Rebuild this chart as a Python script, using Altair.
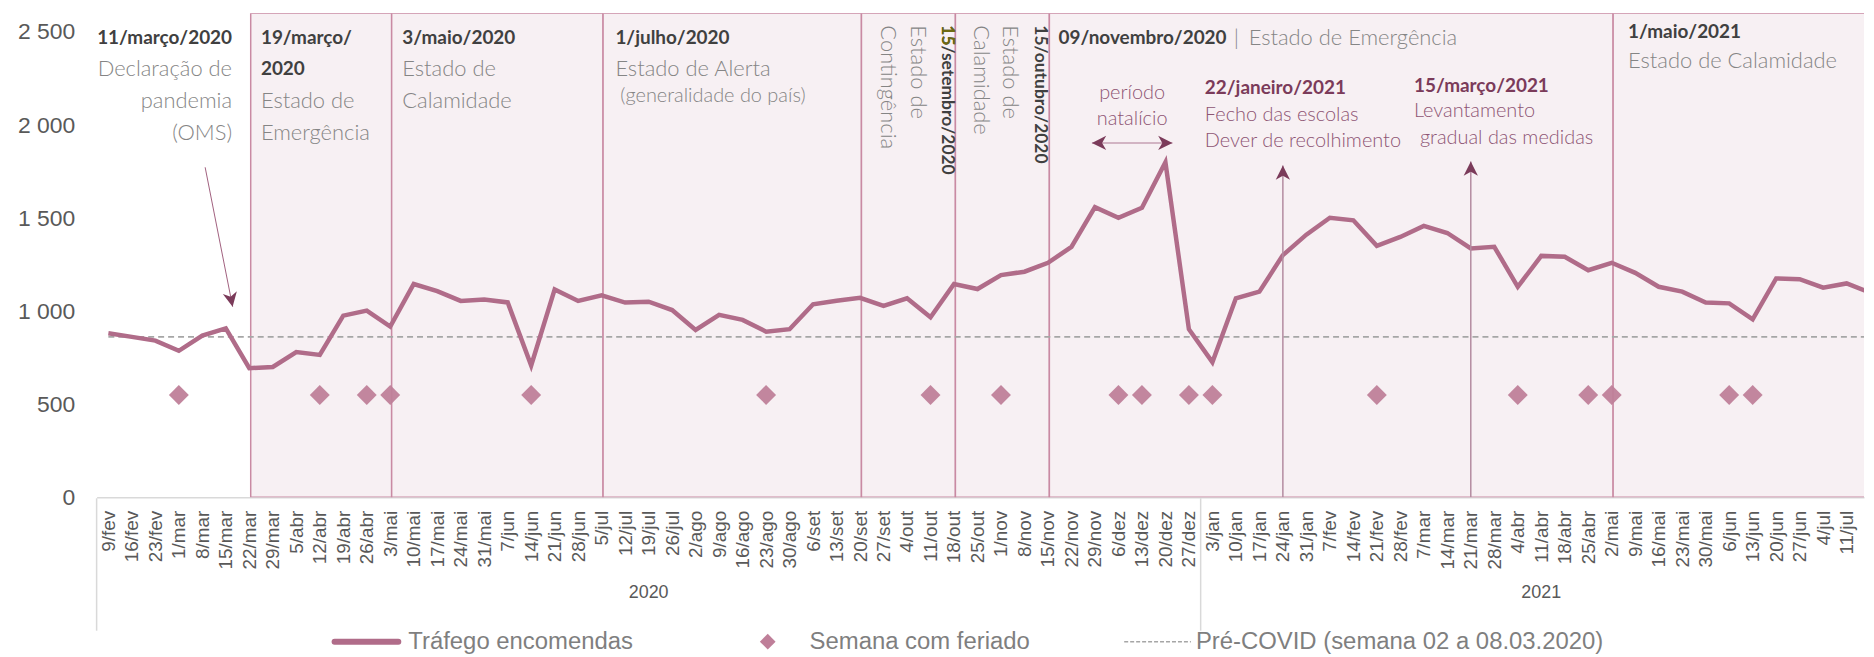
import json
import altair as alt
import pandas as pd

# ---------------- data ----------------
weeks_2020 = ["9/fev", "16/fev", "23/fev", "1/mar", "8/mar", "15/mar", "22/mar", "29/mar",
              "5/abr", "12/abr", "19/abr", "26/abr", "3/mai", "10/mai", "17/mai", "24/mai",
              "31/mai", "7/jun", "14/jun", "21/jun", "28/jun", "5/jul", "12/jul", "19/jul",
              "26/jul", "2/ago", "9/ago", "16/ago", "23/ago", "30/ago", "6/set", "13/set",
              "20/set", "27/set", "4/out", "11/out", "18/out", "25/out", "1/nov", "8/nov",
              "15/nov", "22/nov", "29/nov", "6/dez", "13/dez", "20/dez", "27/dez"]
weeks_2021 = ["3/jan", "10/jan", "17/jan", "24/jan", "31/jan", "7/fev", "14/fev", "21/fev",
              "28/fev", "7/mar", "14/mar", "21/mar", "28/mar", "4/abr", "11/abr", "18/abr",
              "25/abr", "2/mai", "9/mai", "16/mai", "23/mai", "30/mai", "6/jun", "13/jun",
              "20/jun", "27/jun", "4/jul", "11/jul", "18/jul"]

trafego = [881, 862, 842, 787, 869, 908, 694, 700, 780, 765, 976, 1003, 917, 1146, 1108,
           1055, 1063, 1047, 708, 1117, 1055, 1085, 1046, 1051, 1006, 899, 980, 953, 890,
           903, 1037, 1056, 1072, 1028, 1069, 967, 1146, 1119, 1194, 1212, 1260, 1345,
           1559, 1502, 1556, 1800, 903, 726, 1069, 1105, 1301, 1411, 1502, 1488, 1351,
           1399, 1458, 1420, 1337, 1346, 1131, 1297, 1292, 1220, 1260, 1206, 1131, 1105,
           1046, 1042, 956, 1176, 1172, 1126, 1149, 1100]

holidays_2020 = ["1/mar", "12/abr", "26/abr", "3/mai", "14/jun", "23/ago", "11/out",
                 "1/nov", "6/dez", "13/dez", "27/dez"]
holidays_2021 = ["3/jan", "21/fev", "4/abr", "25/abr", "2/mai", "6/jun", "13/jun"]
HOLIDAY_LEVEL = 550
PRE_COVID = 862

# start week of each shaded period (state of emergency, calamity, ...)
period_starts = [("2020", "22/mar"), ("2020", "3/mai"), ("2020", "5/jul"), ("2020", "20/set"),
                 ("2020", "18/out"), ("2020", "15/nov"), ("2021", "2/mai")]
# weeks pointed by vertical arrows
event_weeks = [("2021", "24/jan"), ("2021", "21/mar")]
event_tops = [1783, 1804]

y_ticks = [0, 500, 1000, 1500, 2000, 2500]

# ---------------- derived tables ----------------
labels = weeks_2020 + weeks_2021
years = ["2020"] * len(weeks_2020) + ["2021"] * len(weeks_2021)
idx = {(y, l): i for i, (y, l) in enumerate(zip(years, labels))}

main = pd.DataFrame({"i": range(len(labels)), "semana": labels, "ano": years, "v": trafego})
hol_idx = [idx[("2020", h)] for h in holidays_2020] + [idx[("2021", h)] for h in holidays_2021]
hol = pd.DataFrame({"i": hol_idx, "v": [HOLIDAY_LEVEL] * len(hol_idx)})

W, H = 1775, 486
YMAX = 2600
XMIN, XMAX = -0.5, 74.74
PL, PT = 97, 12  # page position of the plot's top-left corner

def px_to_x(page_x):
    return XMIN + (page_x - PL) / W * (XMAX - XMIN)

def py_to_y(page_y):
    return YMAX * (1 - (page_y - PT) / H)

starts = [idx[p] + 0.06 for p in period_starts]
ends = starts[1:] + [len(labels) - 0.5]
periods = pd.DataFrame({"x0": starts, "x1": ends, "y0": 0, "y1": YMAX})

xs = alt.Scale(domain=[XMIN, XMAX], nice=False, zero=False)
ys = alt.Scale(domain=[0, YMAX], nice=False)

label_expr = json.dumps(labels) + "[datum.value]"
x_axis = alt.Axis(values=list(range(len(labels) - 1)), labelExpr=label_expr, labelAngle=270,
                  labelFont="Liberation Sans", labelFontSize=19, labelColor="#595959",
                  ticks=False, domain=True, domainColor="#d9d9d9", domainWidth=1.5,
                  grid=False, title=None, labelPadding=13, labelOverlap=False,
                  labelFlush=False, labelBound=False)
y_axis = alt.Axis(values=y_ticks, labelExpr="replace(format(datum.value, ','), ',', ' ')",
                  labelFont="Liberation Sans", labelFontSize=23, labelColor="#595959",
                  domain=False, ticks=False, grid=False, title=None, labelPadding=22)

def X(f):
    return alt.X(f, type="quantitative", scale=xs, axis=x_axis)

def Y(f):
    return alt.Y(f, type="quantitative", scale=ys, axis=y_axis)

LINE_C = "#b06c89"
ARROW_C = "#7b3b5a"

rects = alt.Chart(periods).mark_rect(fill="#f7f0f3", stroke="#c98aa3", strokeWidth=1.5,
                                      clip=True).encode(
    x=X("x0"), x2="x1", y=Y("y0"), y2="y1")

pre = pd.DataFrame({"x0": [0], "x1": [len(labels) - 1], "v": [PRE_COVID]})
pre_rule = alt.Chart(pre).mark_rule(color="#a6a6a6", strokeWidth=1.6, strokeDash=[6, 4],
                                     clip=True).encode(x=X("x0"), x2="x1", y=Y("v"))

diamonds = alt.Chart(hol).mark_point(shape="diamond", filled=True, size=400, color="#bf7f99",
                                     opacity=0.95).encode(x=X("i"), y=Y("v"))

line = alt.Chart(main).mark_line(color=LINE_C, strokeWidth=4.5, clip=True).encode(
    x=X("i"), y=Y("v"))

# arrows (shafts + heads)
ev_x = [idx[e] for e in event_weeks]
shafts = pd.DataFrame({
    "x0": [4.12, 41.87] + ev_x, "y0": [1773, 1904, 0, 0],
    "x1": [5.29, 45.30] + ev_x, "y1": [1024, 1904] + event_tops,
    "c": ["#a0607e", "#c6a0b3", "#b48ba0", "#b48ba0"], "w": [1.0, 1.5, 1.5, 1.5]})
shaft_layer = alt.Chart(shafts).mark_rule(clip=True).encode(
    x=X("x0"), y=Y("y0"), x2="x1", y2="y1",
    color=alt.Color("c:N", scale=None), strokeWidth=alt.StrokeWidth("w:Q", scale=None))

heads = pd.DataFrame({"x": [5.29, 41.87, 45.30] + ev_x,
                      "y": [1024, 1904, 1904] + event_tops,
                      "a": [168.8, 270, 90, 0, 0]})
ARROW_PATH = "M0,0 L0.7,1.4 L0,1.0 L-0.7,1.4 Z"
head_layer = alt.Chart(heads).mark_point(shape=ARROW_PATH, filled=True, size=420,
                                         color=ARROW_C, opacity=1).encode(
    x=X("x"), y=Y("y"), angle=alt.Angle("a:Q", scale=None))

def texts(rows, **kw):
    df = pd.DataFrame(rows, columns=["px", "py", "t"])
    df["x"] = df["px"].map(px_to_x)
    df["y"] = df["py"].map(py_to_y)
    return alt.Chart(df).mark_text(**kw).encode(x=X("x"), y=Y("y"), text="t:N")

F = "Lato"
DARK, GRAY, MAUVE_B, MAUVE_L = "#404040", "#858585", "#7b3b5a", "#8e5573"

t_bold_left = texts([(262, 37, "19/março/"), (262, 68, "2020"), (404, 37, "3/maio/2020"),
                     (618, 37, "1/julho/2020"), (1063, 37, "09/novembro/2020"),
                     (1635, 31, "1/maio/2021")],
                    font=F, fontWeight="bold", fontSize=19, color=DARK, align="left")
t_bold_right = texts([(233, 37, "11/março/2020")],
                     font=F, fontWeight="bold", fontSize=19, color=DARK, align="right")
t_light_left = texts([(262, 100, "Estado de"), (262, 132, "Emergência"),
                      (404, 68, "Estado de"), (404, 100, "Calamidade"),
                      (618, 68, "Estado de Alerta"), (1239, 37, "|"),
                      (1254, 37, "Estado de Emergência"),
                      (1635, 60, "Estado de Calamidade")],
                     font=F, fontWeight=300, fontSize=22, color=GRAY, align="left")
t_light_right = texts([(233, 68, "Declaração de"), (233, 100, "pandemia"), (233, 132, "(OMS)")],
                      font=F, fontWeight=300, fontSize=22, color=GRAY, align="right")
t_small = texts([(623, 95, "(generalidade do país)")],
                font=F, fontWeight=300, fontSize=20, color=GRAY, align="left")
t_vert_bold = texts([(951, 24, "15/setembro/2020"), (1044, 24, "15/outubro/2020")],
                    font=F, fontWeight="bold", fontSize=17.5, color=DARK, align="left", angle=90)
t_vert_olive = texts([(951, 24, "15")],
                     font=F, fontWeight="bold", fontSize=17.5, color="#6e6a12", align="left",
                     angle=90)
t_vert_light = texts([(892, 24, "Contingência"), (922, 24, "Estado de"),
                      (985, 24, "Calamidade"), (1014, 24, "Estado de")],
                     font=F, fontWeight=300, fontSize=22, color=GRAY, align="left", angle=90)
t_natal = texts([(1137, 92, "período"), (1137, 118, "natalício")],
                font=F, fontWeight=300, fontSize=20, color=MAUVE_L, align="center")
t_mauve_bold = texts([(1210, 87, "22/janeiro/2021"), (1420, 85, "15/março/2021")],
                     font=F, fontWeight="bold", fontSize=19, color=MAUVE_B, align="left")
t_mauve_light = texts([(1210, 114, "Fecho das escolas"), (1210, 140, "Dever de recolhimento"),
                       (1420, 110, "Levantamento"), (1426, 137, "gradual das medidas")],
                      font=F, fontWeight=300, fontSize=20, color=MAUVE_L, align="left")

# multi-level category axis: year separators and year labels
year_groups = main.groupby("ano")["i"].agg(["min", "max"]).reset_index()
seps = pd.DataFrame({"x": list(year_groups["min"] - 0.5),
                     "y0": py_to_y(499), "y1": py_to_y(632)})
sep_layer = alt.Chart(seps).mark_rule(color="#d9d9d9", strokeWidth=1.5).encode(
    x=X("x"), y=Y("y0"), y2="y1")
ylab = pd.DataFrame({"x": list((year_groups["min"] + year_groups["max"]) / 2),
                     "y": py_to_y(594), "t": list(year_groups["ano"])})
ylab_layer = alt.Chart(ylab).mark_text(font="Liberation Sans", fontSize=18,
                                       color="#595959").encode(x=X("x"), y=Y("y"), text="t:N")

# legend (drawn by hand)
LEG_Y = 643
leg_line = pd.DataFrame({"x0": [px_to_x(336)], "x1": [px_to_x(400)], "y": [py_to_y(LEG_Y)]})
leg_line_layer = alt.Chart(leg_line).mark_rule(color=LINE_C, strokeWidth=6,
                                               strokeCap="round").encode(
    x=X("x0"), x2="x1", y=Y("y"))
leg_dash = pd.DataFrame({"x0": [px_to_x(1129)], "x1": [px_to_x(1196)], "y": [py_to_y(LEG_Y)]})
leg_dash_layer = alt.Chart(leg_dash).mark_rule(color="#a6a6a6", strokeWidth=1.5,
                                               strokeDash=[4, 2]).encode(
    x=X("x0"), x2="x1", y=Y("y"))
leg_dia = pd.DataFrame({"x": [px_to_x(771)], "y": [py_to_y(LEG_Y)]})
leg_dia_layer = alt.Chart(leg_dia).mark_point(shape="diamond", filled=True, size=250,
                                              color="#bf7f99", opacity=1).encode(
    x=X("x"), y=Y("y"))
leg_text = texts([(410, LEG_Y, "Tráfego encomendas"), (813, LEG_Y, "Semana com feriado"),
                  (1201, LEG_Y, "Pré-COVID (semana 02 a 08.03.2020)")],
                 font="Liberation Sans", fontSize=24, color="#7f7f7f", align="left")

chart = alt.layer(
    rects, pre_rule, diamonds, line, shaft_layer, head_layer,
    t_bold_left, t_bold_right, t_light_left, t_light_right, t_small,
    t_vert_bold, t_vert_olive, t_vert_light, t_natal, t_mauve_bold, t_mauve_light,
    sep_layer, ylab_layer, leg_line_layer, leg_dash_layer, leg_dia_layer, leg_text,
).properties(
    width=W, height=H,
    autosize=alt.AutoSizeParams(type="none"),
    padding={"left": PL - 8, "top": PT - 8, "right": 2, "bottom": 649 - (PT - 8) - H},
    background="white",
).configure_view(stroke=None)

chart.save("out.html", embed_options={"renderer": "svg", "actions": False})
